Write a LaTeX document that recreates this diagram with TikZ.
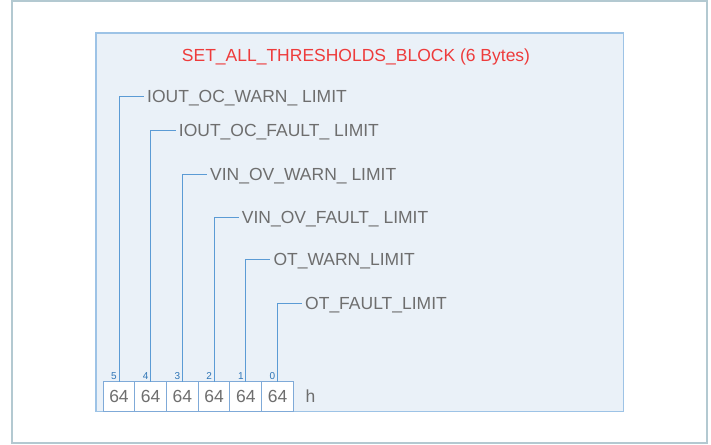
\documentclass[tikz,border=0pt]{standalone}
\usepackage{fontspec}
\setmainfont{Liberation Sans}
\usetikzlibrary{positioning}

\definecolor{framegray}{HTML}{B3C9D1}
\definecolor{blockfill}{HTML}{EAF1F8}
\definecolor{blockline}{HTML}{9DC3E6}
\definecolor{wireblue}{HTML}{5B9BD5}
\definecolor{cellblue}{HTML}{7FAAD8}
\definecolor{idxblue}{HTML}{2E75B6}
\definecolor{textgray}{HTML}{6E6E6E}
\definecolor{titlered}{HTML}{EE3B3B}

\begin{document}
\begin{tikzpicture}[
        x=1pt, y=-1pt,
        block/.style={rectangle, draw=blockline, line width=1.5pt, fill=blockfill, minimum width=527.5pt, minimum height=378.5pt},
        title/.style={anchor=base, text=titlered, font=\fontsize{17.5}{21}\selectfont},
        field/.style={anchor=west, inner sep=3pt, text height=12.5pt, text depth=0pt, text=textgray, font=\fontsize{17.5}{21}\selectfont},
        cell/.style={rectangle, draw=cellblue, line width=1pt, fill=white, minimum width=31.7pt, minimum height=29.5pt, inner sep=0pt, outer sep=0pt, text=textgray, font=\fontsize{17.5}{21}\selectfont},
        idx/.style={anchor=south east, inner sep=2pt, text=idxblue, font=\fontsize{10}{12}\selectfont},
        wire/.style={draw=wireblue, line width=1pt}
        ]

        \useasboundingbox (0,0) rectangle (711,444);
        \draw[framegray, line width=1.2pt, fill=white] (12,1) rectangle (707,443);

        \node[block] (block) at (359.75,222.25) {};
        \node[title] (title) at (356,61) {SET\_ALL\_THRESHOLDS\_BLOCK (6 Bytes)};

        % byte cells
        \node[cell] (c5) at (119,396.3) {64};
        \node[cell, right=0pt of c5] (c4) {64};
        \node[cell, right=0pt of c4] (c3) {64};
        \node[cell, right=0pt of c3] (c2) {64};
        \node[cell, right=0pt of c2] (c1) {64};
        \node[cell, right=0pt of c1] (c0) {64};
        \node[field, right=9pt of c0] (unit) {h};

        % byte indices
        \foreach \i in {0,...,5}
            \node[idx] (i\i) at (c\i.north) {\i};

        % field names
        \node[field] (f5) at (144,96) {IOUT\_OC\_WARN\_ LIMIT};
        \node[field] (f4) at (175.7,130.7) {IOUT\_OC\_FAULT\_ LIMIT};
        \node[field] (f3) at (207,174.3) {VIN\_OV\_WARN\_ LIMIT};
        \node[field] (f2) at (238.7,217.3) {VIN\_OV\_FAULT\_ LIMIT};
        \node[field] (f1) at (270.3,259.3) {OT\_WARN\_LIMIT};
        \node[field] (f0) at (302,303.3) {OT\_FAULT\_LIMIT};

        \foreach \i in {0,...,5}
            \draw[wire] (c\i.north) |- (f\i.west);
    \end{tikzpicture}
\end{document}
